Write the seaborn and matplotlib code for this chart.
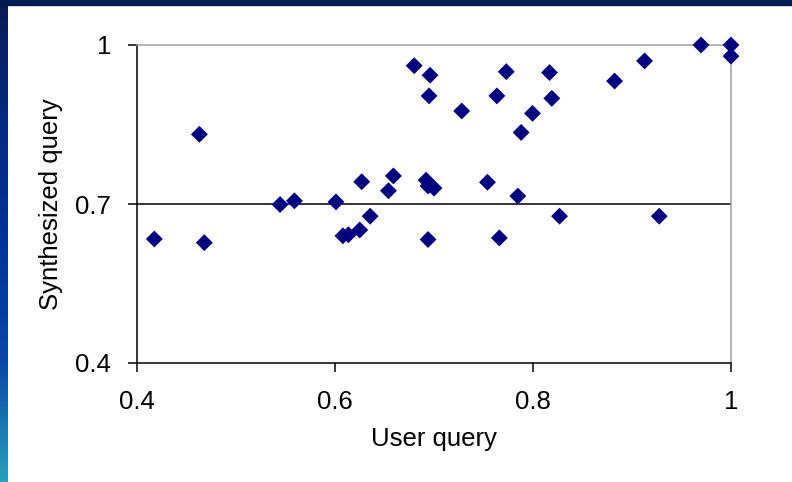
import numpy as np
import matplotlib
matplotlib.use("Agg")
import matplotlib.pyplot as plt
import seaborn as sns
from matplotlib.colors import LinearSegmentedColormap
from matplotlib.patches import Rectangle

# ---- data ----
user_query = [0.4175, 0.463, 0.468, 0.5445, 0.559, 0.601, 0.608, 0.6135, 0.625,
              0.627, 0.6355, 0.654, 0.659, 0.680, 0.692, 0.694, 0.694, 0.695,
              0.696, 0.700, 0.728, 0.754, 0.7635, 0.766, 0.773, 0.7847, 0.788,
              0.7995, 0.8167, 0.819, 0.8268, 0.8824, 0.9127, 0.9275, 0.9697,
              1.0, 1.0]
synth_query = [0.634, 0.8315, 0.627, 0.699, 0.706, 0.704, 0.640, 0.642, 0.651,
               0.742, 0.677, 0.725, 0.753, 0.961, 0.745, 0.734, 0.633, 0.904,
               0.943, 0.730, 0.8755, 0.741, 0.904, 0.636, 0.9497, 0.715, 0.835,
               0.871, 0.948, 0.8994, 0.677, 0.932, 0.970, 0.677, 1.0,
               1.0, 0.979]
x_ticks = [0.4, 0.6, 0.8, 1.0]
x_tick_labels = ["0.4", "0.6", "0.8", "1"]
y_ticks = [0.4, 0.7, 1.0]
y_tick_labels = ["0.4", "0.7", "1"]
x_label = "User query"
y_label = "Synthesized query"

sns.set_theme(style="white")
plt.rcParams['font.family'] = ['Liberation Sans', 'DejaVu Sans']

W, H = 792, 482
fig = plt.figure(figsize=(W / 100, H / 100), dpi=100, facecolor='white')

# slide decoration: left gradient strip and top band
strip = fig.add_axes([0, 0, 8 / W, 1])
grad = np.linspace(0, 1, 256).reshape(-1, 1)
cmap = LinearSegmentedColormap.from_list(
    'slide', ['#0b1c52', '#062a80', '#003399', '#0a47a6', '#2aa2bc'])
strip.imshow(grad, aspect='auto', cmap=cmap, extent=[0, 1, 0, 1])
strip.axis('off')
fig.add_artist(Rectangle((0, 1 - 5 / H), 1, 5 / H, transform=fig.transFigure,
                         color='#031c56', zorder=5))

# main axes
ax = fig.add_axes([137 / W, 1 - 363 / H, (731 - 137) / W, (363 - 45) / H])
ax.set_facecolor('white')
ax.axhline(0.7, color='black', lw=1.1, zorder=1)

sns.scatterplot(x=user_query, y=synth_query, marker='D', s=74,
                color='#000080', edgecolor='none', linewidth=0,
                ax=ax, clip_on=False, zorder=3)

ax.set_xlim(0.4, 1.0)
ax.set_ylim(0.4, 1.0)
ax.set_xticks(x_ticks)
ax.set_xticklabels(x_tick_labels)
ax.set_yticks(y_ticks)
ax.set_yticklabels(y_tick_labels)

for side in ['left', 'bottom']:
    ax.spines[side].set_color('black')
    ax.spines[side].set_linewidth(1.1)
for side in ['top', 'right']:
    ax.spines[side].set_color('#a0a0a0')
    ax.spines[side].set_linewidth(1.1)

ax.tick_params(axis='both', direction='out', length=6.5, width=1.1,
               color='black', labelsize=18.5, labelcolor='black',
               bottom=True, left=True)
ax.tick_params(axis='x', pad=13)
ax.tick_params(axis='y', pad=12)

ax.set_xlabel(x_label, fontsize=18.5, color='black', labelpad=9)
ax.set_ylabel(y_label, fontsize=18.5, color='black', labelpad=9)

fig.savefig('out.png', dpi=100, facecolor='white')
